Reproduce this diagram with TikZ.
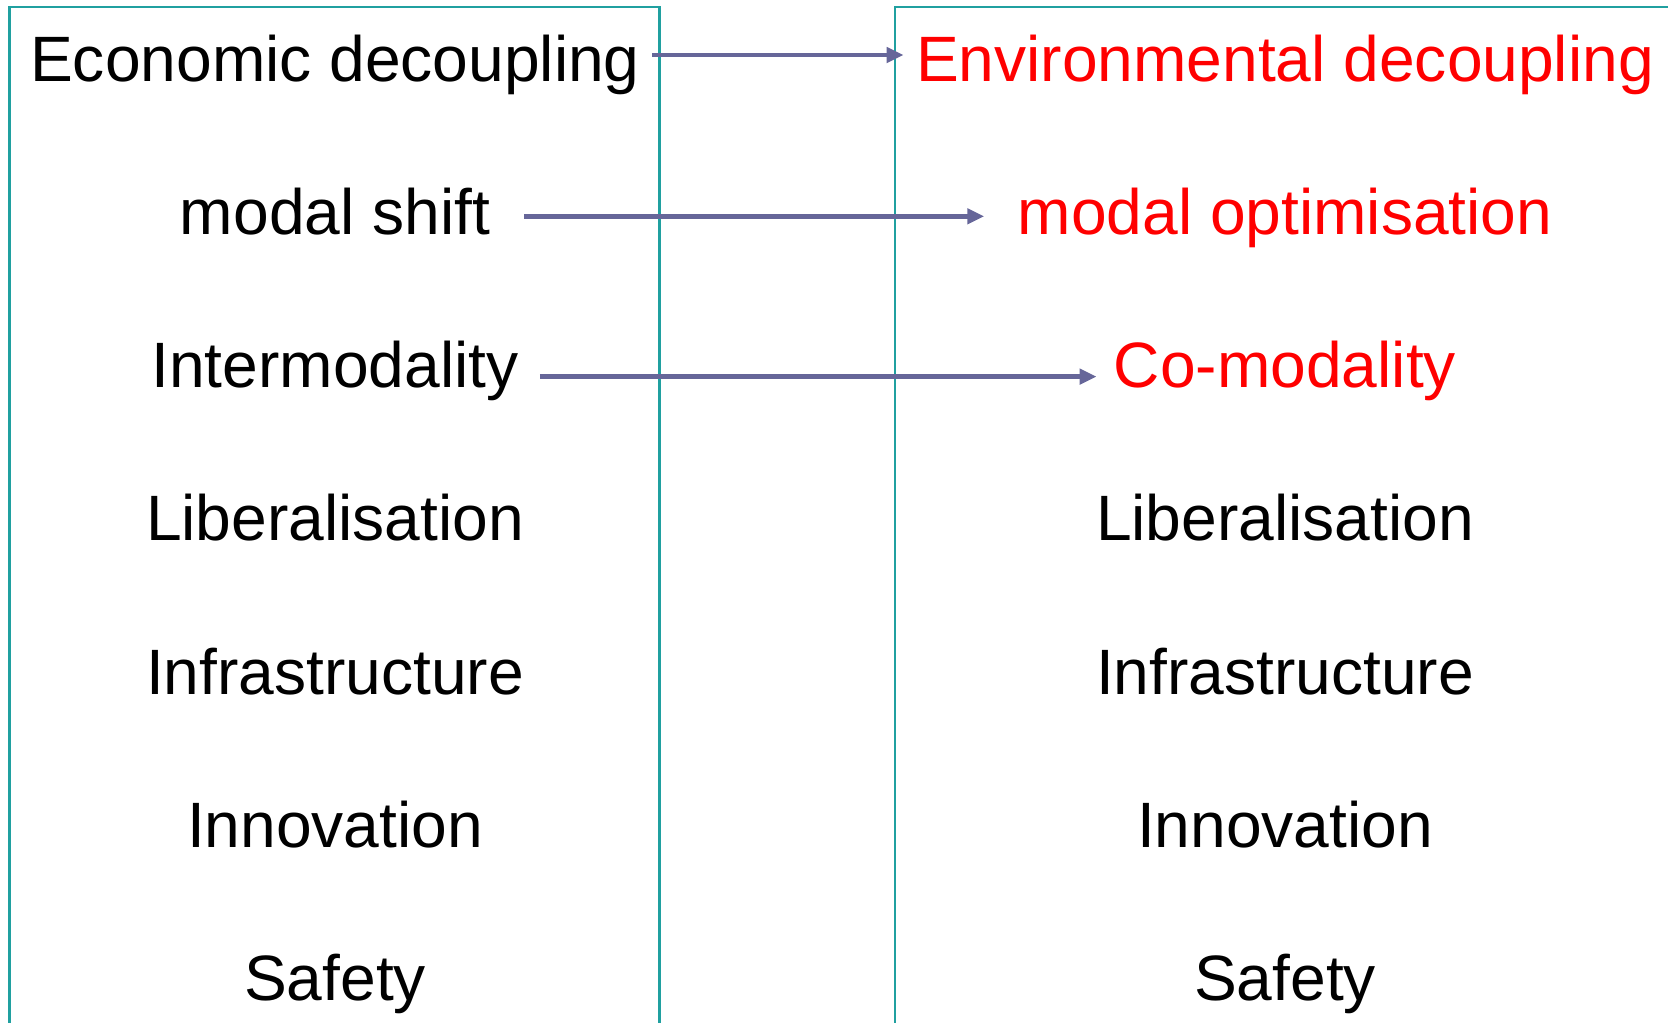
\documentclass[tikz,border=0pt]{standalone}
\usepackage{fontspec}
\setmainfont{Liberation Sans}
\usepackage{tikz}
\usetikzlibrary{arrows.meta,calc}

\definecolor{boxline}{RGB}{32,160,160}
\definecolor{linkcol}{RGB}{102,102,153}

\tikzset{
	item/.style={inner sep=0pt,anchor=base,font=\fontsize{36.5pt}{40pt}\selectfont},
	newitem/.style={item,text=red},
	frame/.style={draw=boxline,line width=1.2pt},
	link/.style={draw=linkcol,line width=2.8pt,-{Triangle[length=9.7pt,width=8.6pt]}}
}

\begin{document}
\begin{tikzpicture}[x=0.02cm,y=-0.02cm]
		\useasboundingbox (0,0) rectangle (1668,1022);
		% the two columns
		\draw[frame] (9.5,1030) -- (9.5,7) -- (659.5,7) -- (659.5,1030);
		\draw[frame] (895,1030) -- (895,7) -- (1680,7);
		% old priorities
		\node(econ)  [item] at (335,81)    {Economic decoupling};
		\node(modal) [item] at (335,234.3) {modal shift};
		\node(inter) [item] at (335,387.6) {Intermodality};
		% new priorities
		\node(env)  [newitem] at (1285,81)    {Environmental decoupling};
		\node(opt)  [newitem] at (1285,234.3) {modal optimisation};
		\node(como) [newitem] at (1285,387.6) {Co-modality};
		% common rows
		\foreach \name/\txt [count=\i from 3] in {lib/Liberalisation,infra/Infrastructure,innov/Innovation,safe/Safety}{
			\node(\name L) [item] at (335,81+153.3*\i)  {\txt};
			\node(\name R) [item] at (1285,81+153.3*\i) {\txt};
		}
		\draw[link] ([shift={(12,-26)}]econ.base east) -- ([shift={(-12,-26)}]env.base west);
		\draw[link] ([shift={(34,-18)}]modal.base east) -- ([shift={(-33,-18)}]opt.base west);
		\draw[link] ([shift={(21,-11)}]inter.base east) -- ([shift={(-17,-11)}]como.base west);
	\end{tikzpicture}
\end{document}
